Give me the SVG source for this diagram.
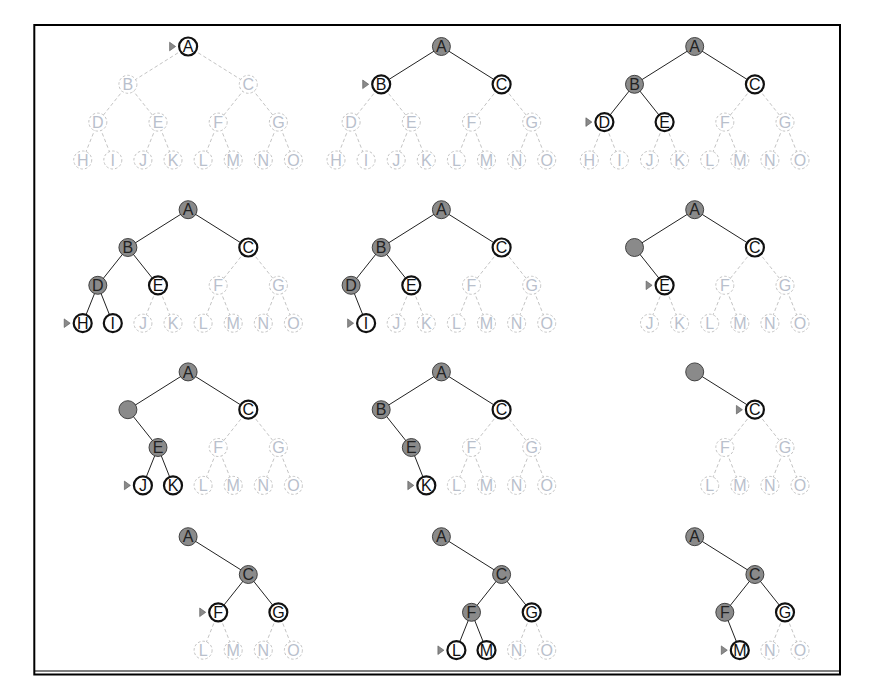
<svg xmlns="http://www.w3.org/2000/svg" width="875" height="676" viewBox="0 0 875 676">
<style>
text{font-family:"Liberation Sans",Arial,sans-serif;font-size:16px;text-anchor:middle}
.ed{stroke:#c4c4c4;stroke-width:1;stroke-dasharray:3.5 2.5;fill:none}
.es{stroke:#222;stroke-width:1;fill:none}
.d circle{fill:#fff;stroke:#c4c4c4;stroke-width:1;stroke-dasharray:2.6 2}
.d text{fill:#b9c0cc}
.f circle{fill:#fff;stroke:#111;stroke-width:2.2}
.f text{fill:#111}
.g circle{fill:#8a8a8a;stroke:#333;stroke-width:0.9}
.g text{fill:#222}
.mk{fill:#8a8a8a;stroke:#555;stroke-width:0.6}
</style>
<rect x="34.3" y="25" width="805.7" height="649.5" fill="none" stroke="#000" stroke-width="2"/>
<line x1="35" y1="671" x2="839" y2="671" stroke="#000" stroke-width="1.2"/>

<!-- Panel 1 -->
<g id="panel1" transform="translate(0,0)">
<g id="p1-edges">
<line class="ed" x1="188.1" y1="46.5" x2="127.9" y2="84.3"/><line class="ed" x1="188.1" y1="46.5" x2="248.3" y2="84.3"/>
<line class="ed" x1="127.9" y1="84.3" x2="97.8" y2="122.1"/><line class="ed" x1="127.9" y1="84.3" x2="158" y2="122.1"/>
<line class="ed" x1="248.3" y1="84.3" x2="218.2" y2="122.1"/><line class="ed" x1="248.3" y1="84.3" x2="278.4" y2="122.1"/>
<line class="ed" x1="97.8" y1="122.1" x2="82.7" y2="160"/><line class="ed" x1="97.8" y1="122.1" x2="112.8" y2="160"/>
<line class="ed" x1="158" y1="122.1" x2="142.9" y2="160"/><line class="ed" x1="158" y1="122.1" x2="173" y2="160"/>
<line class="ed" x1="218.2" y1="122.1" x2="203.1" y2="160"/><line class="ed" x1="218.2" y1="122.1" x2="233.2" y2="160"/>
<line class="ed" x1="278.4" y1="122.1" x2="263.3" y2="160"/><line class="ed" x1="278.4" y1="122.1" x2="293.4" y2="160"/>
</g>
<g id="p1-A" class="f"><circle cx="188.1" cy="46.5" r="9"/><text x="188.1" y="52.3">A</text><polygon class="mk" points="169.6,42.2 169.6,50.8 175.6,46.5"/></g>
<g id="p1-B" class="d"><circle cx="127.9" cy="84.3" r="9"/><text x="127.9" y="90.1">B</text></g>
<g id="p1-C" class="d"><circle cx="248.3" cy="84.3" r="9"/><text x="248.3" y="90.1">C</text></g>
<g id="p1-D" class="d"><circle cx="97.8" cy="122.1" r="9"/><text x="97.8" y="127.9">D</text></g>
<g id="p1-E" class="d"><circle cx="158" cy="122.1" r="9"/><text x="158" y="127.9">E</text></g>
<g id="p1-F" class="d"><circle cx="218.2" cy="122.1" r="9"/><text x="218.2" y="127.9">F</text></g>
<g id="p1-G" class="d"><circle cx="278.4" cy="122.1" r="9"/><text x="278.4" y="127.9">G</text></g>
<g id="p1-H" class="d"><circle cx="82.7" cy="160" r="9"/><text x="82.7" y="165.8">H</text></g>
<g id="p1-I" class="d"><circle cx="112.8" cy="160" r="9"/><text x="112.8" y="165.8">I</text></g>
<g id="p1-J" class="d"><circle cx="142.9" cy="160" r="9"/><text x="142.9" y="165.8">J</text></g>
<g id="p1-K" class="d"><circle cx="173" cy="160" r="9"/><text x="173" y="165.8">K</text></g>
<g id="p1-L" class="d"><circle cx="203.1" cy="160" r="9"/><text x="203.1" y="165.8">L</text></g>
<g id="p1-M" class="d"><circle cx="233.2" cy="160" r="9"/><text x="233.2" y="165.8">M</text></g>
<g id="p1-N" class="d"><circle cx="263.3" cy="160" r="9"/><text x="263.3" y="165.8">N</text></g>
<g id="p1-O" class="d"><circle cx="293.4" cy="160" r="9"/><text x="293.4" y="165.8">O</text></g>
</g>

<!-- Panel 2 -->
<g id="panel2" transform="translate(253.3,0)">
<g id="p2-edges">
<line class="es" x1="188.1" y1="46.5" x2="127.9" y2="84.3"/><line class="es" x1="188.1" y1="46.5" x2="248.3" y2="84.3"/>
<line class="ed" x1="127.9" y1="84.3" x2="97.8" y2="122.1"/><line class="ed" x1="127.9" y1="84.3" x2="158" y2="122.1"/>
<line class="ed" x1="248.3" y1="84.3" x2="218.2" y2="122.1"/><line class="ed" x1="248.3" y1="84.3" x2="278.4" y2="122.1"/>
<line class="ed" x1="97.8" y1="122.1" x2="82.7" y2="160"/><line class="ed" x1="97.8" y1="122.1" x2="112.8" y2="160"/>
<line class="ed" x1="158" y1="122.1" x2="142.9" y2="160"/><line class="ed" x1="158" y1="122.1" x2="173" y2="160"/>
<line class="ed" x1="218.2" y1="122.1" x2="203.1" y2="160"/><line class="ed" x1="218.2" y1="122.1" x2="233.2" y2="160"/>
<line class="ed" x1="278.4" y1="122.1" x2="263.3" y2="160"/><line class="ed" x1="278.4" y1="122.1" x2="293.4" y2="160"/>
</g>
<g id="p2-A" class="g"><circle cx="188.1" cy="46.5" r="9"/><text x="188.1" y="52.3">A</text></g>
<g id="p2-B" class="f"><circle cx="127.9" cy="84.3" r="9"/><text x="127.9" y="90.1">B</text><polygon class="mk" points="109.4,80 109.4,88.6 115.4,84.3"/></g>
<g id="p2-C" class="f"><circle cx="248.3" cy="84.3" r="9"/><text x="248.3" y="90.1">C</text></g>
<g id="p2-D" class="d"><circle cx="97.8" cy="122.1" r="9"/><text x="97.8" y="127.9">D</text></g>
<g id="p2-E" class="d"><circle cx="158" cy="122.1" r="9"/><text x="158" y="127.9">E</text></g>
<g id="p2-F" class="d"><circle cx="218.2" cy="122.1" r="9"/><text x="218.2" y="127.9">F</text></g>
<g id="p2-G" class="d"><circle cx="278.4" cy="122.1" r="9"/><text x="278.4" y="127.9">G</text></g>
<g id="p2-H" class="d"><circle cx="82.7" cy="160" r="9"/><text x="82.7" y="165.8">H</text></g>
<g id="p2-I" class="d"><circle cx="112.8" cy="160" r="9"/><text x="112.8" y="165.8">I</text></g>
<g id="p2-J" class="d"><circle cx="142.9" cy="160" r="9"/><text x="142.9" y="165.8">J</text></g>
<g id="p2-K" class="d"><circle cx="173" cy="160" r="9"/><text x="173" y="165.8">K</text></g>
<g id="p2-L" class="d"><circle cx="203.1" cy="160" r="9"/><text x="203.1" y="165.8">L</text></g>
<g id="p2-M" class="d"><circle cx="233.2" cy="160" r="9"/><text x="233.2" y="165.8">M</text></g>
<g id="p2-N" class="d"><circle cx="263.3" cy="160" r="9"/><text x="263.3" y="165.8">N</text></g>
<g id="p2-O" class="d"><circle cx="293.4" cy="160" r="9"/><text x="293.4" y="165.8">O</text></g>
</g>

<!-- Panel 3 -->
<g id="panel3" transform="translate(506.6,0)">
<g id="p3-edges">
<line class="es" x1="188.1" y1="46.5" x2="127.9" y2="84.3"/><line class="es" x1="188.1" y1="46.5" x2="248.3" y2="84.3"/>
<line class="es" x1="127.9" y1="84.3" x2="97.8" y2="122.1"/><line class="es" x1="127.9" y1="84.3" x2="158" y2="122.1"/>
<line class="ed" x1="248.3" y1="84.3" x2="218.2" y2="122.1"/><line class="ed" x1="248.3" y1="84.3" x2="278.4" y2="122.1"/>
<line class="ed" x1="97.8" y1="122.1" x2="82.7" y2="160"/><line class="ed" x1="97.8" y1="122.1" x2="112.8" y2="160"/>
<line class="ed" x1="158" y1="122.1" x2="142.9" y2="160"/><line class="ed" x1="158" y1="122.1" x2="173" y2="160"/>
<line class="ed" x1="218.2" y1="122.1" x2="203.1" y2="160"/><line class="ed" x1="218.2" y1="122.1" x2="233.2" y2="160"/>
<line class="ed" x1="278.4" y1="122.1" x2="263.3" y2="160"/><line class="ed" x1="278.4" y1="122.1" x2="293.4" y2="160"/>
</g>
<g id="p3-A" class="g"><circle cx="188.1" cy="46.5" r="9"/><text x="188.1" y="52.3">A</text></g>
<g id="p3-B" class="g"><circle cx="127.9" cy="84.3" r="9"/><text x="127.9" y="90.1">B</text></g>
<g id="p3-C" class="f"><circle cx="248.3" cy="84.3" r="9"/><text x="248.3" y="90.1">C</text></g>
<g id="p3-D" class="f"><circle cx="97.8" cy="122.1" r="9"/><text x="97.8" y="127.9">D</text><polygon class="mk" points="79.3,117.8 79.3,126.4 85.3,122.1"/></g>
<g id="p3-E" class="f"><circle cx="158" cy="122.1" r="9"/><text x="158" y="127.9">E</text></g>
<g id="p3-F" class="d"><circle cx="218.2" cy="122.1" r="9"/><text x="218.2" y="127.9">F</text></g>
<g id="p3-G" class="d"><circle cx="278.4" cy="122.1" r="9"/><text x="278.4" y="127.9">G</text></g>
<g id="p3-H" class="d"><circle cx="82.7" cy="160" r="9"/><text x="82.7" y="165.8">H</text></g>
<g id="p3-I" class="d"><circle cx="112.8" cy="160" r="9"/><text x="112.8" y="165.8">I</text></g>
<g id="p3-J" class="d"><circle cx="142.9" cy="160" r="9"/><text x="142.9" y="165.8">J</text></g>
<g id="p3-K" class="d"><circle cx="173" cy="160" r="9"/><text x="173" y="165.8">K</text></g>
<g id="p3-L" class="d"><circle cx="203.1" cy="160" r="9"/><text x="203.1" y="165.8">L</text></g>
<g id="p3-M" class="d"><circle cx="233.2" cy="160" r="9"/><text x="233.2" y="165.8">M</text></g>
<g id="p3-N" class="d"><circle cx="263.3" cy="160" r="9"/><text x="263.3" y="165.8">N</text></g>
<g id="p3-O" class="d"><circle cx="293.4" cy="160" r="9"/><text x="293.4" y="165.8">O</text></g>
</g>

<!-- Panel 4 -->
<g id="panel4" transform="translate(0,163.2)">
<g id="p4-edges">
<line class="es" x1="188.1" y1="46.5" x2="127.9" y2="84.3"/><line class="es" x1="188.1" y1="46.5" x2="248.3" y2="84.3"/>
<line class="es" x1="127.9" y1="84.3" x2="97.8" y2="122.1"/><line class="es" x1="127.9" y1="84.3" x2="158" y2="122.1"/>
<line class="ed" x1="248.3" y1="84.3" x2="218.2" y2="122.1"/><line class="ed" x1="248.3" y1="84.3" x2="278.4" y2="122.1"/>
<line class="es" x1="97.8" y1="122.1" x2="82.7" y2="160"/><line class="es" x1="97.8" y1="122.1" x2="112.8" y2="160"/>
<line class="ed" x1="158" y1="122.1" x2="142.9" y2="160"/><line class="ed" x1="158" y1="122.1" x2="173" y2="160"/>
<line class="ed" x1="218.2" y1="122.1" x2="203.1" y2="160"/><line class="ed" x1="218.2" y1="122.1" x2="233.2" y2="160"/>
<line class="ed" x1="278.4" y1="122.1" x2="263.3" y2="160"/><line class="ed" x1="278.4" y1="122.1" x2="293.4" y2="160"/>
</g>
<g id="p4-A" class="g"><circle cx="188.1" cy="46.5" r="9"/><text x="188.1" y="52.3">A</text></g>
<g id="p4-B" class="g"><circle cx="127.9" cy="84.3" r="9"/><text x="127.9" y="90.1">B</text></g>
<g id="p4-C" class="f"><circle cx="248.3" cy="84.3" r="9"/><text x="248.3" y="90.1">C</text></g>
<g id="p4-D" class="g"><circle cx="97.8" cy="122.1" r="9"/><text x="97.8" y="127.9">D</text></g>
<g id="p4-E" class="f"><circle cx="158" cy="122.1" r="9"/><text x="158" y="127.9">E</text></g>
<g id="p4-F" class="d"><circle cx="218.2" cy="122.1" r="9"/><text x="218.2" y="127.9">F</text></g>
<g id="p4-G" class="d"><circle cx="278.4" cy="122.1" r="9"/><text x="278.4" y="127.9">G</text></g>
<g id="p4-H" class="f"><circle cx="82.7" cy="160" r="9"/><text x="82.7" y="165.8">H</text><polygon class="mk" points="64.2,155.7 64.2,164.3 70.2,160"/></g>
<g id="p4-I" class="f"><circle cx="112.8" cy="160" r="9"/><text x="112.8" y="165.8">I</text></g>
<g id="p4-J" class="d"><circle cx="142.9" cy="160" r="9"/><text x="142.9" y="165.8">J</text></g>
<g id="p4-K" class="d"><circle cx="173" cy="160" r="9"/><text x="173" y="165.8">K</text></g>
<g id="p4-L" class="d"><circle cx="203.1" cy="160" r="9"/><text x="203.1" y="165.8">L</text></g>
<g id="p4-M" class="d"><circle cx="233.2" cy="160" r="9"/><text x="233.2" y="165.8">M</text></g>
<g id="p4-N" class="d"><circle cx="263.3" cy="160" r="9"/><text x="263.3" y="165.8">N</text></g>
<g id="p4-O" class="d"><circle cx="293.4" cy="160" r="9"/><text x="293.4" y="165.8">O</text></g>
</g>

<!-- Panel 5 -->
<g id="panel5" transform="translate(253.3,163.2)">
<g id="p5-edges">
<line class="es" x1="188.1" y1="46.5" x2="127.9" y2="84.3"/><line class="es" x1="188.1" y1="46.5" x2="248.3" y2="84.3"/>
<line class="es" x1="127.9" y1="84.3" x2="97.8" y2="122.1"/><line class="es" x1="127.9" y1="84.3" x2="158" y2="122.1"/>
<line class="ed" x1="248.3" y1="84.3" x2="218.2" y2="122.1"/><line class="ed" x1="248.3" y1="84.3" x2="278.4" y2="122.1"/>
<line class="es" x1="97.8" y1="122.1" x2="112.8" y2="160"/>
<line class="ed" x1="158" y1="122.1" x2="142.9" y2="160"/><line class="ed" x1="158" y1="122.1" x2="173" y2="160"/>
<line class="ed" x1="218.2" y1="122.1" x2="203.1" y2="160"/><line class="ed" x1="218.2" y1="122.1" x2="233.2" y2="160"/>
<line class="ed" x1="278.4" y1="122.1" x2="263.3" y2="160"/><line class="ed" x1="278.4" y1="122.1" x2="293.4" y2="160"/>
</g>
<g id="p5-A" class="g"><circle cx="188.1" cy="46.5" r="9"/><text x="188.1" y="52.3">A</text></g>
<g id="p5-B" class="g"><circle cx="127.9" cy="84.3" r="9"/><text x="127.9" y="90.1">B</text></g>
<g id="p5-C" class="f"><circle cx="248.3" cy="84.3" r="9"/><text x="248.3" y="90.1">C</text></g>
<g id="p5-D" class="g"><circle cx="97.8" cy="122.1" r="9"/><text x="97.8" y="127.9">D</text></g>
<g id="p5-E" class="f"><circle cx="158" cy="122.1" r="9"/><text x="158" y="127.9">E</text></g>
<g id="p5-F" class="d"><circle cx="218.2" cy="122.1" r="9"/><text x="218.2" y="127.9">F</text></g>
<g id="p5-G" class="d"><circle cx="278.4" cy="122.1" r="9"/><text x="278.4" y="127.9">G</text></g>
<g id="p5-I" class="f"><circle cx="112.8" cy="160" r="9"/><text x="112.8" y="165.8">I</text><polygon class="mk" points="94.3,155.7 94.3,164.3 100.3,160"/></g>
<g id="p5-J" class="d"><circle cx="142.9" cy="160" r="9"/><text x="142.9" y="165.8">J</text></g>
<g id="p5-K" class="d"><circle cx="173" cy="160" r="9"/><text x="173" y="165.8">K</text></g>
<g id="p5-L" class="d"><circle cx="203.1" cy="160" r="9"/><text x="203.1" y="165.8">L</text></g>
<g id="p5-M" class="d"><circle cx="233.2" cy="160" r="9"/><text x="233.2" y="165.8">M</text></g>
<g id="p5-N" class="d"><circle cx="263.3" cy="160" r="9"/><text x="263.3" y="165.8">N</text></g>
<g id="p5-O" class="d"><circle cx="293.4" cy="160" r="9"/><text x="293.4" y="165.8">O</text></g>
</g>

<!-- Panel 6 -->
<g id="panel6" transform="translate(506.6,163.2)">
<g id="p6-edges">
<line class="es" x1="188.1" y1="46.5" x2="127.9" y2="84.3"/><line class="es" x1="188.1" y1="46.5" x2="248.3" y2="84.3"/>
<line class="es" x1="127.9" y1="84.3" x2="158" y2="122.1"/>
<line class="ed" x1="248.3" y1="84.3" x2="218.2" y2="122.1"/><line class="ed" x1="248.3" y1="84.3" x2="278.4" y2="122.1"/>
<line class="ed" x1="158" y1="122.1" x2="142.9" y2="160"/><line class="ed" x1="158" y1="122.1" x2="173" y2="160"/>
<line class="ed" x1="218.2" y1="122.1" x2="203.1" y2="160"/><line class="ed" x1="218.2" y1="122.1" x2="233.2" y2="160"/>
<line class="ed" x1="278.4" y1="122.1" x2="263.3" y2="160"/><line class="ed" x1="278.4" y1="122.1" x2="293.4" y2="160"/>
</g>
<g id="p6-A" class="g"><circle cx="188.1" cy="46.5" r="9"/><text x="188.1" y="52.3">A</text></g>
<g id="p6-B" class="g"><circle cx="127.9" cy="84.3" r="9"/></g>
<g id="p6-C" class="f"><circle cx="248.3" cy="84.3" r="9"/><text x="248.3" y="90.1">C</text></g>
<g id="p6-E" class="f"><circle cx="158" cy="122.1" r="9"/><text x="158" y="127.9">E</text><polygon class="mk" points="139.5,117.8 139.5,126.4 145.5,122.1"/></g>
<g id="p6-F" class="d"><circle cx="218.2" cy="122.1" r="9"/><text x="218.2" y="127.9">F</text></g>
<g id="p6-G" class="d"><circle cx="278.4" cy="122.1" r="9"/><text x="278.4" y="127.9">G</text></g>
<g id="p6-J" class="d"><circle cx="142.9" cy="160" r="9"/><text x="142.9" y="165.8">J</text></g>
<g id="p6-K" class="d"><circle cx="173" cy="160" r="9"/><text x="173" y="165.8">K</text></g>
<g id="p6-L" class="d"><circle cx="203.1" cy="160" r="9"/><text x="203.1" y="165.8">L</text></g>
<g id="p6-M" class="d"><circle cx="233.2" cy="160" r="9"/><text x="233.2" y="165.8">M</text></g>
<g id="p6-N" class="d"><circle cx="263.3" cy="160" r="9"/><text x="263.3" y="165.8">N</text></g>
<g id="p6-O" class="d"><circle cx="293.4" cy="160" r="9"/><text x="293.4" y="165.8">O</text></g>
</g>

<!-- Panel 7 -->
<g id="panel7" transform="translate(0,325.4)">
<g id="p7-edges">
<line class="es" x1="188.1" y1="46.5" x2="127.9" y2="84.3"/><line class="es" x1="188.1" y1="46.5" x2="248.3" y2="84.3"/>
<line class="es" x1="127.9" y1="84.3" x2="158" y2="122.1"/>
<line class="ed" x1="248.3" y1="84.3" x2="218.2" y2="122.1"/><line class="ed" x1="248.3" y1="84.3" x2="278.4" y2="122.1"/>
<line class="es" x1="158" y1="122.1" x2="142.9" y2="160"/><line class="es" x1="158" y1="122.1" x2="173" y2="160"/>
<line class="ed" x1="218.2" y1="122.1" x2="203.1" y2="160"/><line class="ed" x1="218.2" y1="122.1" x2="233.2" y2="160"/>
<line class="ed" x1="278.4" y1="122.1" x2="263.3" y2="160"/><line class="ed" x1="278.4" y1="122.1" x2="293.4" y2="160"/>
</g>
<g id="p7-A" class="g"><circle cx="188.1" cy="46.5" r="9"/><text x="188.1" y="52.3">A</text></g>
<g id="p7-B" class="g"><circle cx="127.9" cy="84.3" r="9"/></g>
<g id="p7-C" class="f"><circle cx="248.3" cy="84.3" r="9"/><text x="248.3" y="90.1">C</text></g>
<g id="p7-E" class="g"><circle cx="158" cy="122.1" r="9"/><text x="158" y="127.9">E</text></g>
<g id="p7-F" class="d"><circle cx="218.2" cy="122.1" r="9"/><text x="218.2" y="127.9">F</text></g>
<g id="p7-G" class="d"><circle cx="278.4" cy="122.1" r="9"/><text x="278.4" y="127.9">G</text></g>
<g id="p7-J" class="f"><circle cx="142.9" cy="160" r="9"/><text x="142.9" y="165.8">J</text><polygon class="mk" points="124.4,155.7 124.4,164.3 130.4,160"/></g>
<g id="p7-K" class="f"><circle cx="173" cy="160" r="9"/><text x="173" y="165.8">K</text></g>
<g id="p7-L" class="d"><circle cx="203.1" cy="160" r="9"/><text x="203.1" y="165.8">L</text></g>
<g id="p7-M" class="d"><circle cx="233.2" cy="160" r="9"/><text x="233.2" y="165.8">M</text></g>
<g id="p7-N" class="d"><circle cx="263.3" cy="160" r="9"/><text x="263.3" y="165.8">N</text></g>
<g id="p7-O" class="d"><circle cx="293.4" cy="160" r="9"/><text x="293.4" y="165.8">O</text></g>
</g>

<!-- Panel 8 -->
<g id="panel8" transform="translate(253.3,325.4)">
<g id="p8-edges">
<line class="es" x1="188.1" y1="46.5" x2="127.9" y2="84.3"/><line class="es" x1="188.1" y1="46.5" x2="248.3" y2="84.3"/>
<line class="es" x1="127.9" y1="84.3" x2="158" y2="122.1"/>
<line class="ed" x1="248.3" y1="84.3" x2="218.2" y2="122.1"/><line class="ed" x1="248.3" y1="84.3" x2="278.4" y2="122.1"/>
<line class="es" x1="158" y1="122.1" x2="173" y2="160"/>
<line class="ed" x1="218.2" y1="122.1" x2="203.1" y2="160"/><line class="ed" x1="218.2" y1="122.1" x2="233.2" y2="160"/>
<line class="ed" x1="278.4" y1="122.1" x2="263.3" y2="160"/><line class="ed" x1="278.4" y1="122.1" x2="293.4" y2="160"/>
</g>
<g id="p8-A" class="g"><circle cx="188.1" cy="46.5" r="9"/><text x="188.1" y="52.3">A</text></g>
<g id="p8-B" class="g"><circle cx="127.9" cy="84.3" r="9"/><text x="127.9" y="90.1">B</text></g>
<g id="p8-C" class="f"><circle cx="248.3" cy="84.3" r="9"/><text x="248.3" y="90.1">C</text></g>
<g id="p8-E" class="g"><circle cx="158" cy="122.1" r="9"/><text x="158" y="127.9">E</text></g>
<g id="p8-F" class="d"><circle cx="218.2" cy="122.1" r="9"/><text x="218.2" y="127.9">F</text></g>
<g id="p8-G" class="d"><circle cx="278.4" cy="122.1" r="9"/><text x="278.4" y="127.9">G</text></g>
<g id="p8-K" class="f"><circle cx="173" cy="160" r="9"/><text x="173" y="165.8">K</text><polygon class="mk" points="154.5,155.7 154.5,164.3 160.5,160"/></g>
<g id="p8-L" class="d"><circle cx="203.1" cy="160" r="9"/><text x="203.1" y="165.8">L</text></g>
<g id="p8-M" class="d"><circle cx="233.2" cy="160" r="9"/><text x="233.2" y="165.8">M</text></g>
<g id="p8-N" class="d"><circle cx="263.3" cy="160" r="9"/><text x="263.3" y="165.8">N</text></g>
<g id="p8-O" class="d"><circle cx="293.4" cy="160" r="9"/><text x="293.4" y="165.8">O</text></g>
</g>

<!-- Panel 9 -->
<g id="panel9" transform="translate(506.6,325.4)">
<g id="p9-edges">
<line class="es" x1="188.1" y1="46.5" x2="248.3" y2="84.3"/>
<line class="ed" x1="248.3" y1="84.3" x2="218.2" y2="122.1"/><line class="ed" x1="248.3" y1="84.3" x2="278.4" y2="122.1"/>
<line class="ed" x1="218.2" y1="122.1" x2="203.1" y2="160"/><line class="ed" x1="218.2" y1="122.1" x2="233.2" y2="160"/>
<line class="ed" x1="278.4" y1="122.1" x2="263.3" y2="160"/><line class="ed" x1="278.4" y1="122.1" x2="293.4" y2="160"/>
</g>
<g id="p9-A" class="g"><circle cx="188.1" cy="46.5" r="9"/></g>
<g id="p9-C" class="f"><circle cx="248.3" cy="84.3" r="9"/><text x="248.3" y="90.1">C</text><polygon class="mk" points="229.8,80 229.8,88.6 235.8,84.3"/></g>
<g id="p9-F" class="d"><circle cx="218.2" cy="122.1" r="9"/><text x="218.2" y="127.9">F</text></g>
<g id="p9-G" class="d"><circle cx="278.4" cy="122.1" r="9"/><text x="278.4" y="127.9">G</text></g>
<g id="p9-L" class="d"><circle cx="203.1" cy="160" r="9"/><text x="203.1" y="165.8">L</text></g>
<g id="p9-M" class="d"><circle cx="233.2" cy="160" r="9"/><text x="233.2" y="165.8">M</text></g>
<g id="p9-N" class="d"><circle cx="263.3" cy="160" r="9"/><text x="263.3" y="165.8">N</text></g>
<g id="p9-O" class="d"><circle cx="293.4" cy="160" r="9"/><text x="293.4" y="165.8">O</text></g>
</g>

<!-- Panel 10 -->
<g id="panel10" transform="translate(0,490.2)">
<g id="p10-edges">
<line class="es" x1="188.1" y1="46.5" x2="248.3" y2="84.3"/>
<line class="es" x1="248.3" y1="84.3" x2="218.2" y2="122.1"/><line class="es" x1="248.3" y1="84.3" x2="278.4" y2="122.1"/>
<line class="ed" x1="218.2" y1="122.1" x2="203.1" y2="160"/><line class="ed" x1="218.2" y1="122.1" x2="233.2" y2="160"/>
<line class="ed" x1="278.4" y1="122.1" x2="263.3" y2="160"/><line class="ed" x1="278.4" y1="122.1" x2="293.4" y2="160"/>
</g>
<g id="p10-A" class="g"><circle cx="188.1" cy="46.5" r="9"/><text x="188.1" y="52.3">A</text></g>
<g id="p10-C" class="g"><circle cx="248.3" cy="84.3" r="9"/><text x="248.3" y="90.1">C</text></g>
<g id="p10-F" class="f"><circle cx="218.2" cy="122.1" r="9"/><text x="218.2" y="127.9">F</text><polygon class="mk" points="199.7,117.8 199.7,126.4 205.7,122.1"/></g>
<g id="p10-G" class="f"><circle cx="278.4" cy="122.1" r="9"/><text x="278.4" y="127.9">G</text></g>
<g id="p10-L" class="d"><circle cx="203.1" cy="160" r="9"/><text x="203.1" y="165.8">L</text></g>
<g id="p10-M" class="d"><circle cx="233.2" cy="160" r="9"/><text x="233.2" y="165.8">M</text></g>
<g id="p10-N" class="d"><circle cx="263.3" cy="160" r="9"/><text x="263.3" y="165.8">N</text></g>
<g id="p10-O" class="d"><circle cx="293.4" cy="160" r="9"/><text x="293.4" y="165.8">O</text></g>
</g>

<!-- Panel 11 -->
<g id="panel11" transform="translate(253.3,490.2)">
<g id="p11-edges">
<line class="es" x1="188.1" y1="46.5" x2="248.3" y2="84.3"/>
<line class="es" x1="248.3" y1="84.3" x2="218.2" y2="122.1"/><line class="es" x1="248.3" y1="84.3" x2="278.4" y2="122.1"/>
<line class="es" x1="218.2" y1="122.1" x2="203.1" y2="160"/><line class="es" x1="218.2" y1="122.1" x2="233.2" y2="160"/>
<line class="ed" x1="278.4" y1="122.1" x2="263.3" y2="160"/><line class="ed" x1="278.4" y1="122.1" x2="293.4" y2="160"/>
</g>
<g id="p11-A" class="g"><circle cx="188.1" cy="46.5" r="9"/><text x="188.1" y="52.3">A</text></g>
<g id="p11-C" class="g"><circle cx="248.3" cy="84.3" r="9"/><text x="248.3" y="90.1">C</text></g>
<g id="p11-F" class="g"><circle cx="218.2" cy="122.1" r="9"/><text x="218.2" y="127.9">F</text></g>
<g id="p11-G" class="f"><circle cx="278.4" cy="122.1" r="9"/><text x="278.4" y="127.9">G</text></g>
<g id="p11-L" class="f"><circle cx="203.1" cy="160" r="9"/><text x="203.1" y="165.8">L</text><polygon class="mk" points="184.6,155.7 184.6,164.3 190.6,160"/></g>
<g id="p11-M" class="f"><circle cx="233.2" cy="160" r="9"/><text x="233.2" y="165.8">M</text></g>
<g id="p11-N" class="d"><circle cx="263.3" cy="160" r="9"/><text x="263.3" y="165.8">N</text></g>
<g id="p11-O" class="d"><circle cx="293.4" cy="160" r="9"/><text x="293.4" y="165.8">O</text></g>
</g>

<!-- Panel 12 -->
<g id="panel12" transform="translate(506.6,490.2)">
<g id="p12-edges">
<line class="es" x1="188.1" y1="46.5" x2="248.3" y2="84.3"/>
<line class="es" x1="248.3" y1="84.3" x2="218.2" y2="122.1"/><line class="es" x1="248.3" y1="84.3" x2="278.4" y2="122.1"/>
<line class="es" x1="218.2" y1="122.1" x2="233.2" y2="160"/>
<line class="ed" x1="278.4" y1="122.1" x2="263.3" y2="160"/><line class="ed" x1="278.4" y1="122.1" x2="293.4" y2="160"/>
</g>
<g id="p12-A" class="g"><circle cx="188.1" cy="46.5" r="9"/><text x="188.1" y="52.3">A</text></g>
<g id="p12-C" class="g"><circle cx="248.3" cy="84.3" r="9"/><text x="248.3" y="90.1">C</text></g>
<g id="p12-F" class="g"><circle cx="218.2" cy="122.1" r="9"/><text x="218.2" y="127.9">F</text></g>
<g id="p12-G" class="f"><circle cx="278.4" cy="122.1" r="9"/><text x="278.4" y="127.9">G</text></g>
<g id="p12-M" class="f"><circle cx="233.2" cy="160" r="9"/><text x="233.2" y="165.8">M</text><polygon class="mk" points="214.7,155.7 214.7,164.3 220.7,160"/></g>
<g id="p12-N" class="d"><circle cx="263.3" cy="160" r="9"/><text x="263.3" y="165.8">N</text></g>
<g id="p12-O" class="d"><circle cx="293.4" cy="160" r="9"/><text x="293.4" y="165.8">O</text></g>
</g>
</svg>
